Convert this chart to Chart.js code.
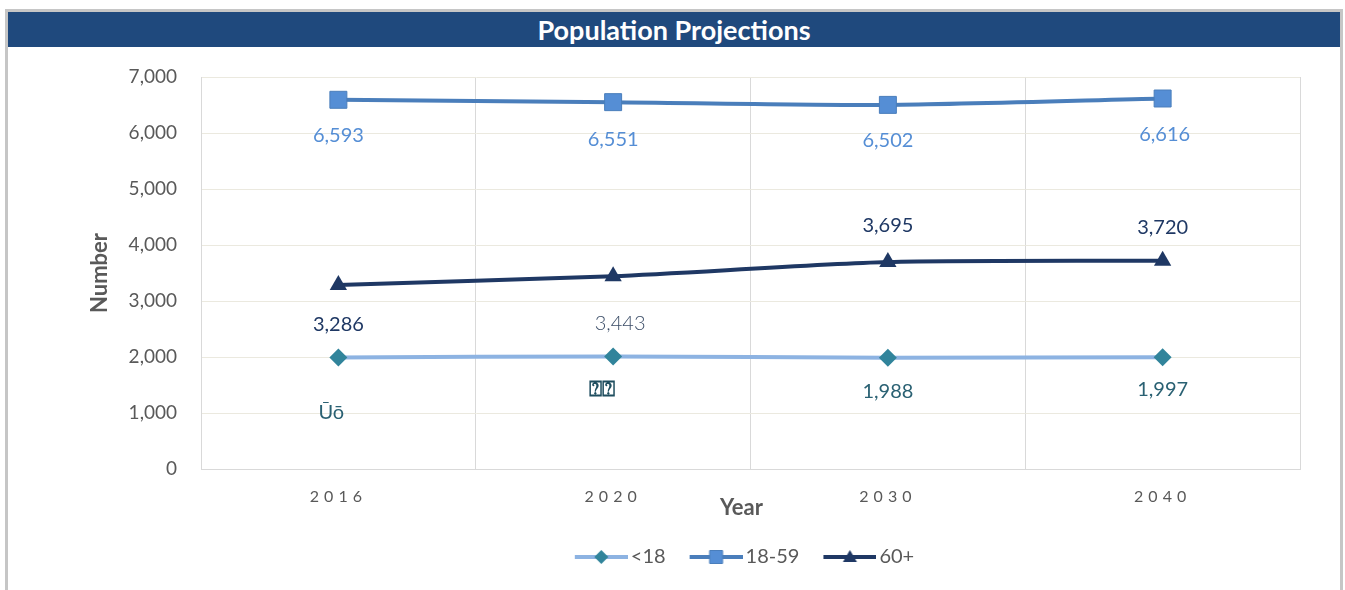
<!DOCTYPE html>
<html lang="en">
<head>
  <meta charset="UTF-8" />
  <title>Population Projections</title>
  <style>
    body {
      margin: 0;
      background: #fff;
      font-family: Lato, sans-serif;
    }
    .frame {
      position: absolute;
      left: 5px;
      top: 9px;
      width: 1332px;
      height: 600px;
      border: 3px solid #c6c6c6;
      border-bottom: none;
    }
    .title-bar {
      height: 35px;
      background: #1f497d;
      color: #fff;
      font-weight: bold;
      font-size: 27px;
      line-height: 35px;
      text-align: center;
    }
    .chart-box {
      position: absolute;
      left: 0;
      top: 35px;
      width: 1332px;
      height: 543px;
    }
  </style>
</head>
<body>
  <div class="frame">
    <div class="title-bar">Population Projections</div>
    <div class="chart-box"><canvas id="popChart"></canvas></div>
  </div>

  <script src="https://cdn.jsdelivr.net/npm/chart.js"></script>
  <script>
    const years = ['2016', '2020', '2030', '2040'];
    const under18 = [1993, 2010, 1988, 1997];
    const age18to59 = [6593, 6551, 6502, 6616];
    const age60plus = [3286, 3443, 3695, 3720];
    const under18Labels = ['Ūō', '⍰⍰', '1,988', '1,997'];
    const age18to59Labels = ['6,593', '6,551', '6,502', '6,616'];
    const age60plusLabels = ['3,286', '3,443', '3,695', '3,720'];

    Chart.defaults.font.family = 'Lato, sans-serif';

    // legend icon: line with the marker in the middle (blank space on the left)
    function legendIcon(lineColor, marker, fill, stroke) {
      const c = document.createElement('canvas');
      c.width = 74;
      c.height = 20;
      const g = c.getContext('2d');
      g.strokeStyle = lineColor;
      g.lineWidth = 4;
      g.beginPath();
      g.moveTo(21, 10);
      g.lineTo(74, 10);
      g.stroke();
      const cx = 47.5, cy = 10;
      g.fillStyle = fill;
      g.beginPath();
      if (marker === 'diamond') {
        g.moveTo(cx, cy - 7); g.lineTo(cx + 7, cy); g.lineTo(cx, cy + 7); g.lineTo(cx - 7, cy);
      } else if (marker === 'square') {
        g.rect(cx - 6.5, cy - 6.5, 13, 13);
      } else {
        g.moveTo(cx, cy - 7); g.lineTo(cx + 7, cy + 5); g.lineTo(cx - 7, cy + 5);
      }
      g.closePath();
      g.fill();
      if (stroke) { g.strokeStyle = stroke; g.lineWidth = 1; g.stroke(); }
      return c;
    }

    const pointLabels = {
      id: 'pointLabels',
      afterDatasetsDraw(chart) {
        const ctx = chart.ctx;
        chart.data.datasets.forEach((ds, i) => {
          chart.getDatasetMeta(i).data.forEach((pt, j) => {
            ctx.save();
            ctx.font = ds.labelFonts[j];
            ctx.fillStyle = ds.labelColors[j];
            ctx.textAlign = 'center';
            ctx.textBaseline = 'middle';
            ctx.fillText(ds.labelText[j], pt.x + ds.labelDx[j], pt.y + ds.labelDy[j]);
            ctx.restore();
          });
        });
      }
    };

    // spaced-out year labels, "Year" title and legend nudged left
    const tweaks = {
      id: 'tweaks',
      afterLayout(chart) {
        chart.legend.left -= 13;
        chart.legend.right -= 13;
        const x = chart.scales.x;
        if (x._patched) return;
        const origLabels = x.drawLabels;
        x.drawLabels = function (area) {
          const c = this.ctx;
          c.save();
          c.letterSpacing = '5px';
          origLabels.call(this, area);
          c.restore();
        };
        const origTitle = x.drawTitle;
        x.drawTitle = function () {
          const c = this.ctx;
          c.save();
          c.translate(-9, 0);
          origTitle.call(this);
          c.restore();
        };
        x._patched = true;
      }
    };

    const icons = [
      legendIcon('#8db3e2', 'diamond', '#31849b'),
      legendIcon('#4a7ebb', 'square', '#558ed5', '#4a7ebb'),
      legendIcon('#1f3864', 'triangle', '#1f3864')
    ];

    const lblFont = '20px Lato, sans-serif';

    new Chart(document.getElementById('popChart'), {
      type: 'line',
      data: {
        labels: years,
        datasets: [{
          label: '<18',
          data: under18,
          borderColor: '#8db3e2',
          borderWidth: 4,
          pointStyle: 'rectRot',
          pointRadius: 9,
          pointBackgroundColor: '#31849b',
          pointBorderColor: '#31849b',
          pointBorderWidth: 0,
          tension: 0.25,
          labelText: under18Labels,
          labelFonts: [lblFont, 'bold 22px Lato, sans-serif', lblFont, lblFont],
          labelColors: ['#2a6173', '#1f4e5f', '#2a6173', '#2a6173'],
          labelDx: [-7, -11, 0, 0],
          labelDy: [55, 32, 34, 32]
        }, {
          label: '18-59',
          data: age18to59,
          borderColor: '#4a7ebb',
          borderWidth: 4,
          pointStyle: 'rect',
          pointRadius: 12,
          pointBackgroundColor: '#558ed5',
          pointBorderColor: '#4a7ebb',
          pointBorderWidth: 1,
          tension: 0.25,
          labelText: age18to59Labels,
          labelFonts: [lblFont, lblFont, lblFont, lblFont],
          labelColors: ['#558ed5', '#558ed5', '#558ed5', '#558ed5'],
          labelDx: [0, 0, 0, 2],
          labelDy: [36, 37, 36, 36]
        }, {
          label: '60+',
          data: age60plus,
          borderColor: '#1f3864',
          borderWidth: 4,
          pointStyle: 'triangle',
          pointRadius: 10,
          pointBackgroundColor: '#1f3864',
          pointBorderColor: '#1f3864',
          pointBorderWidth: 0,
          tension: 0.25,
          labelText: age60plusLabels,
          labelFonts: [lblFont, '300 20px Lato, sans-serif', lblFont, lblFont],
          labelColors: ['#1f3864', '#3a4c66', '#1f3864', '#1f3864'],
          labelDx: [0, 7, 0, 0],
          labelDy: [40, 47, -37, -33]
        }]
      },
      options: {
        responsive: true,
        maintainAspectRatio: false,
        animation: false,
        layout: { padding: { top: 30, right: 40, bottom: 13, left: 0 } },
        plugins: {
          legend: {
            position: 'bottom',
            fullSize: false,
            labels: {
              usePointStyle: true,
              pointStyleWidth: 60,
              padding: 10,
              color: '#595959',
              font: { size: 20 },
              generateLabels: (chart) => chart.data.datasets.map((ds, i) => ({
                text: ds.label,
                pointStyle: icons[i],
                fontColor: '#595959',
                lineWidth: 0,
                datasetIndex: i
              }))
            }
          },
          tooltip: { enabled: false }
        },
        scales: {
          x: {
            offset: true,
            grid: { offset: true, color: '#d9d9d9', drawTicks: false },
            border: { color: '#d9d9d9' },
            ticks: { padding: 18.5, color: '#595959', font: { size: 16 } },
            title: {
              display: true,
              text: 'Year',
              color: '#595959',
              font: { size: 22, weight: 'bold' },
              padding: { top: 0, bottom: 16 }
            },
            afterFit: (s) => { s.height = 68; }
          },
          y: {
            min: 0,
            max: 7000,
            grid: { color: '#ebe9df', drawTicks: false },
            border: { color: '#d9d9d9' },
            ticks: { stepSize: 1000, padding: 24, color: '#595959', font: { size: 19 } },
            title: {
              display: true,
              text: 'Number',
              color: '#595959',
              font: { size: 22, weight: 'bold' },
              padding: { top: 79, bottom: 0 }
            },
            afterFit: (s) => {
              s.width = 193;
              s.paddingTop = 0;
              s.paddingBottom = 0;
            }
          }
        }
      },
      plugins: [pointLabels, tweaks]
    });
  </script>
</body>
</html>
